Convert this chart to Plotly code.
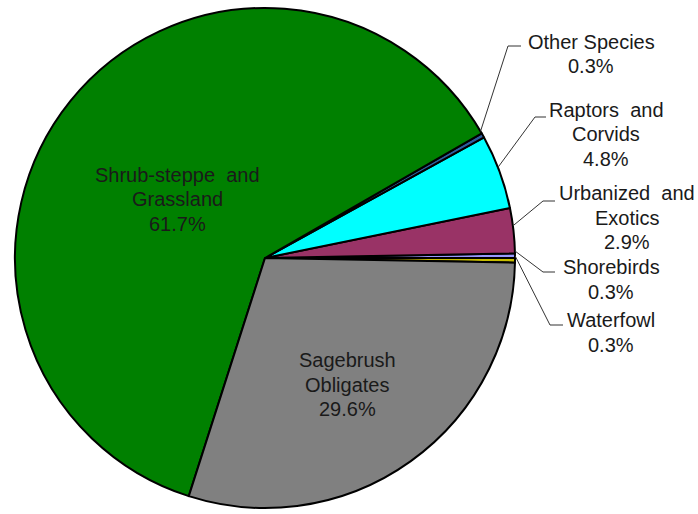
import math
import plotly.graph_objects as go

# Bird species groups, listed counterclockwise from 3 o'clock
groups = ["Waterfowl", "Shorebirds", "Urbanized and Exotics", "Raptors and Corvids",
          "Other Species", "Shrub-steppe and Grassland", "Sagebrush Obligates"]
label_lines = [["Waterfowl"], ["Shorebirds"], ["Urbanized\u00a0 and", "Exotics"],
               ["Raptors\u00a0 and", "Corvids"], ["Other Species"],
               ["Shrub-steppe\u00a0 and", "Grassland"], ["Sagebrush", "Obligates"]]
shares = [0.3, 0.3, 2.9, 4.8, 0.3, 61.7, 29.6]
colors = ["#C8BE00", "#9999FF", "#993366", "#00FFFF", "#2E5E9E", "#008000", "#808080"]

W, H = 698, 514
CX, CY, R = 265, 258, 250  # pie centre and radius in pixels
FONT = "Arial, Liberation Sans, sans-serif"
FONT_SIZE = 20
LINE_H = 24.5


def px(x):
    return x / W


def py(y):
    return 1 - y / H


fig = go.Figure(go.Pie(
    labels=groups,
    values=shares,
    sort=False,
    direction="counterclockwise",
    rotation=90,
    textinfo="none",
    hoverinfo="label+percent",
    marker=dict(colors=colors, line=dict(color="black", width=2)),
    domain=dict(x=[px(CX - R), px(CX + R)], y=[py(CY + R), py(CY - R)]),
    showlegend=False,
))

total = sum(shares)
cum = 0.0
mid_angle = []
for v in shares:
    mid_angle.append(math.radians((cum + v / 2) / total * 360))
    cum += v

# Callout placement for the small slices: elbow, line end, text centre x / first-line centre y
callouts = {
    "Other Species": ((508, 46), (521, 46), (591, 42)),
    "Raptors and Corvids": ((535, 117), (546, 117), (606, 110)),
    "Urbanized and Exotics": ((543, 201), (555, 201), (627, 193)),
    "Shorebirds": ((543, 272), (555, 272), (611, 267)),
    "Waterfowl": ((550, 325), (563, 325), (611, 320)),
}
# Text centre x / first-line centre y for the large slices
inside = {
    "Shrub-steppe and Grassland": (177, 175),
    "Sagebrush Obligates": (347, 360),
}

shapes = []
annotations = []
for name, lines, v, a in zip(groups, label_lines, shares, mid_angle):
    rows = lines + [f"{v:.1f}%"]
    if name in callouts:
        (ex, ey), (hx, hy), (tx, ty) = callouts[name]
        sx = CX + R * math.cos(a)
        sy = CY - R * math.sin(a)
        shapes.append(dict(
            type="path", xref="paper", yref="paper",
            path=f"M {px(sx)} {py(sy)} L {px(ex)} {py(ey)} L {px(hx)} {py(hy)}",
            line=dict(color="#333333", width=1),
        ))
    else:
        tx, ty = inside[name]
    for i, row in enumerate(rows):
        annotations.append(dict(
            x=px(tx), y=py(ty + i * LINE_H), xref="paper", yref="paper",
            xanchor="center", yanchor="middle", showarrow=False,
            text=row, font=dict(family=FONT, size=FONT_SIZE, color="#1a1a1a"),
        ))

fig.update_layout(
    width=W, height=H,
    margin=dict(l=0, r=0, t=0, b=0),
    paper_bgcolor="white",
    shapes=shapes,
    annotations=annotations,
)

fig.write_html("out.html")
